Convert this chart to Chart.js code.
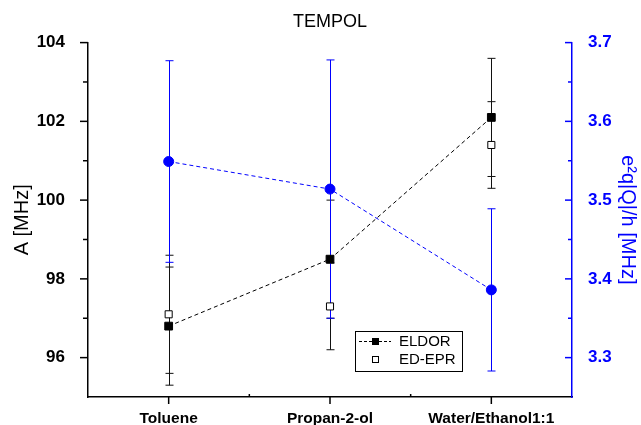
<!DOCTYPE html>
<html>
<head>
<meta charset="utf-8">
<script src="https://cdn.jsdelivr.net/npm/chart.js@4"></script>
<style>
  body { margin: 0; background: #fff; }
</style>
</head>
<body>
<canvas id="chart" width="641" height="425"></canvas>
<script>
const solvents = ["Toluene", "Propan-2-ol", "Water/Ethanol1:1"];
const eldor = [96.8, 98.5, 102.1];
const eldorErr = [1.5, 1.5, 1.5];
const edEpr = [97.1, 97.3, 101.4];
const edEprErr = [1.5, 1.1, 1.1];
const quad = [3.549, 3.514, 3.386];
const quadErr = [0.128, 0.164, 0.103];
const leftTicks = [96, 98, 100, 102, 104];
const leftMinor = [97, 99, 101, 103];
const rightTicks = [3.3, 3.4, 3.5, 3.6, 3.7];
const rightMinor = [3.35, 3.45, 3.55, 3.65];

const FONT = "'Liberation Sans', Arial, sans-serif";
const BLUE = "#0000ff";

// error bars drawn under the points
const errorBars = {
  id: "errorBars",
  beforeDatasetsDraw(chart) {
    const ctx = chart.ctx;
    ctx.save();
    chart.data.datasets.forEach((ds, i) => {
      if (!ds.errors) return;
      const meta = chart.getDatasetMeta(i);
      const ys = chart.scales[meta.yAxisID];
      const xs = chart.scales.x;
      ctx.strokeStyle = ds.errorColor;
      ctx.lineWidth = 1;
      ds.data.forEach((v, j) => {
        const x = Math.round(xs.getPixelForValue(j)) + 0.5;
        const top = ys.getPixelForValue(v + ds.errors[j]);
        const bot = ys.getPixelForValue(v - ds.errors[j]);
        ctx.beginPath();
        ctx.moveTo(x, top); ctx.lineTo(x, bot);
        ctx.moveTo(x - 4, top); ctx.lineTo(x + 4, top);
        ctx.moveTo(x - 4, bot); ctx.lineTo(x + 4, bot);
        ctx.stroke();
      });
    });
    ctx.restore();
  }
};

// tick marks (major/minor, in or out like the original)
const tickMarks = {
  id: "tickMarks",
  afterDraw(chart) {
    const ctx = chart.ctx;
    const { x, y, y1 } = chart.scales;
    const a = chart.chartArea;
    ctx.save();
    ctx.lineWidth = 1.5;
    function hTick(scale, vals, x0, len, color) {
      ctx.strokeStyle = color;
      vals.forEach(v => {
        const py = scale.getPixelForValue(v);
        ctx.beginPath(); ctx.moveTo(x0, py); ctx.lineTo(x0 + len, py); ctx.stroke();
      });
    }
    hTick(y, leftTicks, a.left, -8, "#000");
    hTick(y, leftMinor, a.left, -5, "#000");
    hTick(y1, rightTicks, a.right, -7, BLUE);
    hTick(y1, rightMinor, a.right, -4, BLUE);
    ctx.strokeStyle = "#000";
    solvents.forEach((s, i) => {
      const px = x.getPixelForValue(i);
      ctx.beginPath(); ctx.moveTo(px, a.bottom); ctx.lineTo(px, a.bottom + 7); ctx.stroke();
    });
    for (let i = 0; i < solvents.length - 1; i++) {
      const px = x.getPixelForValue(i + 0.5);
      ctx.beginPath(); ctx.moveTo(px, a.bottom); ctx.lineTo(px, a.bottom - 3); ctx.stroke();
    }
    ctx.restore();
  }
};

// legend box inside the plot
const boxLegend = {
  id: "boxLegend",
  afterDraw(chart) {
    const ctx = chart.ctx;
    const bx = 355, by = 331, bw = 107, bh = 40;
    ctx.save();
    ctx.fillStyle = "#fff";
    ctx.fillRect(bx, by, bw, bh);
    ctx.strokeStyle = "#000";
    ctx.lineWidth = 1;
    ctx.strokeRect(bx + 0.5, by + 0.5, bw, bh);
    const r1 = by + 10, r2 = by + 28;
    ctx.setLineDash([3, 2]);
    ctx.beginPath(); ctx.moveTo(bx + 4, r1 + 0.5); ctx.lineTo(bx + 36, r1 + 0.5); ctx.stroke();
    ctx.setLineDash([]);
    ctx.fillStyle = "#000";
    ctx.fillRect(bx + 17, r1 - 3, 7, 7);
    ctx.fillStyle = "#fff";
    ctx.fillRect(bx + 17, r2 - 3, 6, 6);
    ctx.strokeRect(bx + 17.5, r2 - 2.5, 6, 6);
    ctx.fillStyle = "#000";
    ctx.font = "15px " + FONT;
    ctx.textBaseline = "middle";
    ctx.fillText(chart.data.datasets[0].label, bx + 44, r1 + 1);
    ctx.fillText(chart.data.datasets[1].label, bx + 44, r2 + 1);
    ctx.restore();
  }
};

new Chart(document.getElementById("chart"), {
  type: "line",
  data: {
    labels: solvents,
    datasets: [
      {
        label: "ELDOR", data: eldor, errors: eldorErr, errorColor: "#111", yAxisID: "y",
        borderColor: "#000", borderWidth: 1, borderDash: [4, 3],
        pointStyle: "rect", pointRadius: 5.5, pointBackgroundColor: "#000",
        pointBorderColor: "#000", pointBorderWidth: 1
      },
      {
        label: "ED-EPR", data: edEpr, errors: edEprErr, errorColor: "#111", yAxisID: "y",
        showLine: false, pointStyle: "rect", pointRadius: 5,
        pointBackgroundColor: "#fff", pointBorderColor: "#000", pointBorderWidth: 1
      },
      {
        label: "e²q|Q|/h", data: quad, errors: quadErr, errorColor: BLUE, yAxisID: "y1",
        borderColor: BLUE, borderWidth: 1, borderDash: [4, 3],
        pointStyle: "circle", pointRadius: 5, pointBackgroundColor: BLUE, pointBorderColor: BLUE
      }
    ]
  },
  options: {
    responsive: false,
    animation: false,
    layout: { padding: 0 },
    plugins: {
      legend: { display: false },
      tooltip: { enabled: false },
      title: {
        display: true, text: "TEMPOL", fullSize: false, color: "#000",
        font: { family: FONT, size: 18, weight: "normal" },
        padding: { top: 11, bottom: 10 }
      }
    },
    scales: {
      x: {
        offset: true,
        grid: { display: false },
        border: { color: "#000", width: 1.5 },
        ticks: {
          color: "#000", padding: 4, maxRotation: 0, autoSkip: false,
          font: { family: FONT, size: 15.5, weight: "bold" }
        },
        afterFit(s) { s.height = 28; }
      },
      y: {
        position: "left", min: 95, max: 104,
        afterBuildTicks(s) { s.ticks = leftTicks.map(v => ({ value: v })); },
        grid: { display: false },
        border: { color: "#000", width: 1.5 },
        ticks: { color: "#000", padding: 15, font: { family: FONT, size: 17, weight: "bold" } },
        title: {
          display: true, text: "A [MHz]", color: "#000",
          font: { family: FONT, size: 20 }, padding: { top: 10, bottom: 0 }
        },
        afterFit(s) { s.width = 88; }
      },
      y1: {
        position: "right", min: 3.25, max: 3.7,
        afterBuildTicks(s) { s.ticks = rightTicks.map(v => ({ value: v })); },
        grid: { display: false },
        border: { color: BLUE, width: 1.5 },
        ticks: {
          color: BLUE, padding: 8, callback: v => v.toFixed(1),
          font: { family: FONT, size: 17, weight: "bold" }
        },
        title: {
          display: true, text: "e²q|Q|/h [MHz]", color: BLUE,
          font: { family: FONT, size: 20 }, padding: { top: 1, bottom: 0 }
        },
        afterFit(s) { s.width = 69; }
      }
    }
  },
  plugins: [errorBars, tickMarks, boxLegend]
});
</script>
</body>
</html>
